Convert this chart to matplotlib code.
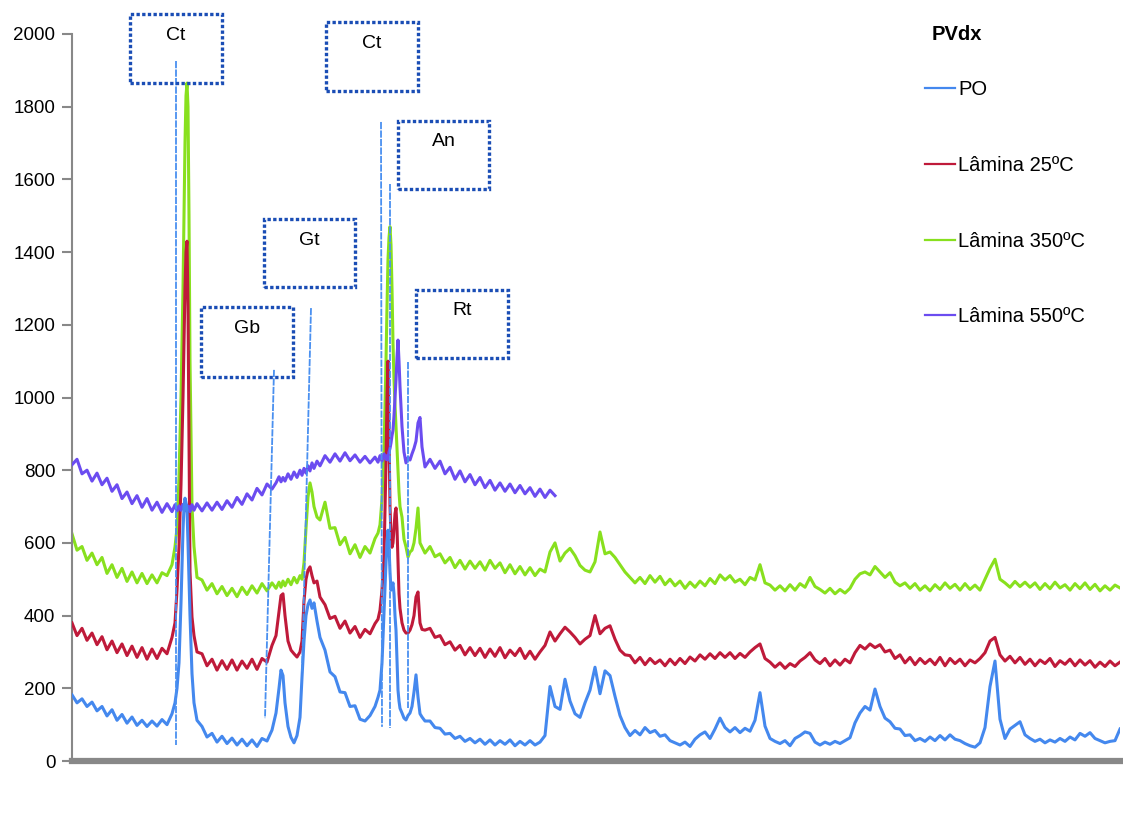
import matplotlib.pyplot as plt
from matplotlib.patches import Rectangle

# channel positions (arbitrary 2theta steps, denser around the sharp peaks)
channel = (list(range(0, 101, 5))
           + [103, 105, 107, 109, 111, 112, 113, 114, 115, 116, 117, 118, 120, 122, 125]
           + list(range(130, 201, 5))
           + [204, 207, 209, 211, 213, 216, 219, 222, 225, 228, 230, 232, 234, 236, 238, 240, 242, 245, 248]
           + list(range(253, 304, 5))
           + [306, 308, 310, 312, 314, 315, 316, 317, 318, 319, 320, 321, 322, 323, 324, 325, 326, 327, 328,
              330, 332, 334, 336, 338, 340, 342, 344, 346, 348, 350, 353]
           + list(range(358, 1049, 5)))

po = ([182, 160, 171, 150, 162, 138, 150, 124, 141, 112, 128, 104, 121, 98, 112, 95, 110, 96, 114, 100, 130]
      + [160, 200, 270, 435, 635, 700, 723, 710, 690, 600, 498, 400, 240, 160, 112]
      + [95, 66, 76, 52, 68, 48, 63, 44, 60, 42, 58, 40, 62, 55, 85]
      + [132, 200, 250, 235, 160, 95, 65, 50, 70, 120, 230, 330, 400, 430, 443, 420, 435, 385, 340]
      + [305, 245, 232, 190, 188, 150, 152, 115, 110, 125, 150]
      + [175, 195, 270, 407, 545, 600, 635, 590, 520, 470, 480, 490, 460, 400, 360, 280, 195, 165, 145,
         132, 118, 113, 125, 132, 150, 190, 237, 176, 130, 121, 110]
      + [110, 92, 90, 74, 76, 62, 68, 54, 62, 50,
         60, 46, 58, 44, 56, 46, 58, 42, 54, 44,
         56, 44, 52, 70, 205, 150, 142, 225, 165, 130,
         120, 160, 195, 258, 185, 248, 235, 178, 125, 92,
         70, 84, 72, 92, 78, 84, 68, 72, 56, 50,
         44, 52, 40, 60, 72, 80, 62, 88, 118, 92,
         80, 92, 78, 90, 82, 112, 188, 96, 62, 54,
         48, 56, 42, 62, 70, 80, 76, 52, 44, 52,
         46, 54, 48, 56, 64, 105, 132, 150, 140, 198,
         150, 118, 108, 90, 88, 70, 72, 56, 62, 54,
         66, 56, 70, 58, 72, 60, 56, 48, 42, 38,
         50, 92, 205, 275, 115, 62, 88, 98, 108, 72,
         62, 54, 60, 50, 58, 52, 62, 54, 66, 58,
         76, 68, 78, 62, 56, 50, 54, 56, 88])

lam25 = ([380, 345, 365, 332, 352, 320, 342, 306, 330, 298, 322, 290, 316, 285, 312, 280, 308, 282, 310, 295, 340]
         + [380, 470, 590, 760, 1000, 1150, 1300, 1400, 1430, 1250, 900, 520, 396, 345, 300]
         + [295, 262, 280, 250, 276, 252, 278, 250, 275, 255, 280, 252, 282, 272, 318]
         + [345, 410, 455, 460, 400, 330, 305, 295, 286, 300, 330, 440, 500, 525, 534, 510, 490, 495, 451]
         + [430, 392, 398, 365, 385, 352, 370, 340, 362, 350, 378]
         + [390, 415, 470, 560, 820, 1000, 1100, 900, 700, 620, 588, 600, 640, 680, 696, 640, 545, 460, 420,
            380, 360, 352, 352, 360, 375, 400, 451, 465, 380, 362, 360]
         + [365, 340, 345, 320, 328, 305, 318, 292, 312, 290,
            310, 285, 308, 288, 312, 284, 305, 290, 310, 282,
            302, 280, 300, 318, 355, 330, 350, 368, 355, 340,
            322, 335, 345, 400, 350, 365, 372, 335, 305, 292,
            290, 270, 285, 265, 282, 268, 278, 262, 280, 265,
            282, 268, 286, 275, 292, 280, 295, 282, 298, 285,
            298, 282, 296, 285, 300, 312, 322, 282, 272, 258,
            270, 255, 268, 260, 275, 285, 298, 278, 268, 282,
            262, 278, 264, 280, 270, 298, 318, 308, 322, 312,
            320, 300, 305, 282, 292, 270, 285, 265, 282, 268,
            280, 265, 285, 262, 282, 268, 280, 262, 278, 270,
            282, 298, 330, 340, 292, 275, 288, 270, 285, 266,
            280, 262, 278, 268, 282, 260, 276, 266, 280, 262,
            278, 264, 276, 258, 272, 260, 275, 262, 272])

lam350 = ([625, 580, 590, 552, 572, 540, 560, 516, 540, 505, 530, 494, 520, 490, 516, 488, 512, 490, 518, 510, 540]
          + [589, 640, 780, 1000, 1300, 1500, 1700, 1830, 1865, 1800, 1500, 1100, 700, 590, 505]
          + [498, 470, 488, 460, 480, 455, 475, 452, 478, 458, 482, 462, 488, 468, 490]
          + [475, 492, 478, 495, 482, 500, 485, 505, 490, 510, 500, 545, 640, 726, 765, 740, 700, 671, 663]
          + [712, 640, 642, 595, 615, 570, 595, 560, 590, 572, 612]
          + [627, 650, 720, 850, 1100, 1250, 1380, 1440, 1470, 1420, 1300, 1150, 1050, 980, 920, 860, 800, 740,
             700, 671, 610, 589, 561, 575, 580, 600, 640, 696, 600, 589, 572]
          + [590, 562, 570, 545, 560, 532, 552, 528, 550, 530,
             548, 525, 552, 530, 545, 518, 540, 515, 535, 512,
             532, 510, 528, 520, 575, 600, 550, 572, 585, 565,
             538, 525, 520, 548, 630, 570, 575, 560, 540, 520,
             505, 490, 505, 488, 510, 492, 508, 485, 500, 482,
             495, 475, 492, 478, 495, 482, 502, 488, 512, 498,
             510, 492, 500, 485, 505, 498, 540, 490, 484, 470,
             482, 468, 485, 470, 488, 478, 505, 480, 472, 462,
             475, 460, 472, 462, 475, 500, 515, 520, 512, 535,
             520, 505, 518, 492, 482, 490, 475, 488, 470, 482,
             468, 485, 472, 490, 475, 486, 470, 488, 472, 484,
             470, 500, 530, 555, 500, 490, 478, 494, 480, 492,
             478, 490, 472, 488, 474, 492, 476, 485, 470, 488,
             474, 490, 472, 486, 468, 482, 470, 484, 476])

lam550 = ([815, 830, 790, 800, 770, 792, 760, 778, 742, 760, 722, 740, 708, 730, 698, 722, 690, 712, 684, 708, 686]
          + [705, 688, 702, 690, 706, 692, 700, 688, 704, 692, 700, 686, 705, 690, 708]
          + [688, 710, 690, 712, 692, 716, 698, 725, 706, 735, 718, 750, 732, 762, 748]
          + [765, 782, 768, 780, 770, 790, 775, 795, 780, 800, 786, 805, 792, 812, 798, 820, 805, 825, 812]
          + [840, 822, 845, 825, 848, 826, 842, 822, 838, 820, 836]
          + [822, 840, 825, 845, 830, 840, 828, 850, 860, 875, 895, 910, 950, 1000, 1048, 1110, 1158, 1100,
             1030, 920, 850, 820, 835, 828, 845, 860, 880, 930, 945, 864, 809]
          + [830, 805, 825, 790, 808, 775, 798, 768, 788, 760, 780, 752, 772, 745, 765, 742, 762, 738,
             758, 735, 752, 728, 748, 725, 745, 730])

# phase labels: text, box (x0, x1, y0, y1), marker line (x_top, y_top, x_bottom, y_bottom)
phases = ['Ct', 'Ct', 'An', 'Gt', 'Gb', 'Rt']
boxes = [(58, 150, 1865, 2055), (254, 346, 1843, 2033), (326, 417, 1574, 1761),
         (192, 283, 1304, 1491), (129, 221, 1056, 1249), (344, 436, 1109, 1296)]
markers = [(104, 1925, 104, 44), (309, 1758, 310, 94), (318, 1587, 318, 91),
           (239, 1246, 230, 242), (202, 1076, 193, 118), (336, 1098, 336, 146)]

plt.rcParams['font.family'] = ['Liberation Sans', 'DejaVu Sans']

fig = plt.figure(figsize=(11.23, 8.18), dpi=100)
ax = fig.add_axes([72/1123, 1-761/818, 1048/1123, 727/818])

lw = 2.2
ax.plot(channel, lam350, color='#88e01e', lw=lw, label='Lâmina 350ºC', zorder=2)
ax.plot(channel, lam25, color='#bf1a3a', lw=lw, label='Lâmina 25ºC', zorder=3)
ax.plot(channel[:len(lam550)], lam550, color='#6b4cf0', lw=lw, label='Lâmina 550ºC', zorder=4)
ax.plot(channel, po, color='#4488ee', lw=lw, label='PO', zorder=5)

for name, (x0, x1, y0, y1), (xt, yt, xb, yb) in zip(phases, boxes, markers):
    ax.plot([xt, xb], [yt, yb], color='#4a90f0', lw=1.3, ls=(0, (4, 0.7)), zorder=6, clip_on=False)
    ax.add_patch(Rectangle((x0, y0), x1 - x0, y1 - y0, fill=False, ec='#1a4db5', lw=2.4,
                           ls=(0, (1, 0.7)), zorder=7, clip_on=False))
    ax.text((x0 + x1) / 2, y1 - (y1 - y0) * 0.31, name, ha='center', va='center', fontsize=14, zorder=8)

ax.set_xlim(0, 1048)
ax.set_ylim(0, 2000)
ax.set_yticks(range(0, 2001, 200))
ax.set_xticks([])
ax.tick_params(axis='y', labelsize=13.5, length=7, width=1.5, color='#888888', pad=5)
for s in ['top', 'right']:
    ax.spines[s].set_visible(False)
ax.spines['left'].set_color('#888888')
ax.spines['left'].set_linewidth(1.5)
ax.spines['bottom'].set_color('#888888')
ax.spines['bottom'].set_linewidth(4.5)

h, l = ax.get_legend_handles_labels()
order = [3, 1, 0, 2]
leg = ax.legend([h[i] for i in order], [l[i] for i in order], loc='upper left',
                bbox_to_anchor=(925/1123, 1 - 80/818), bbox_transform=fig.transFigure,
                frameon=False, fontsize=14.5, handlelength=1.5, handletextpad=0.15,
                labelspacing=2.82, borderpad=0, borderaxespad=0)
for line in leg.get_lines():
    line.set_linewidth(1.6)
fig.text(932/1123, 1 - 34/818, 'PVdx', fontsize=14.5, fontweight='bold', ha='left', va='center')

fig.savefig('out.png', dpi=100)
